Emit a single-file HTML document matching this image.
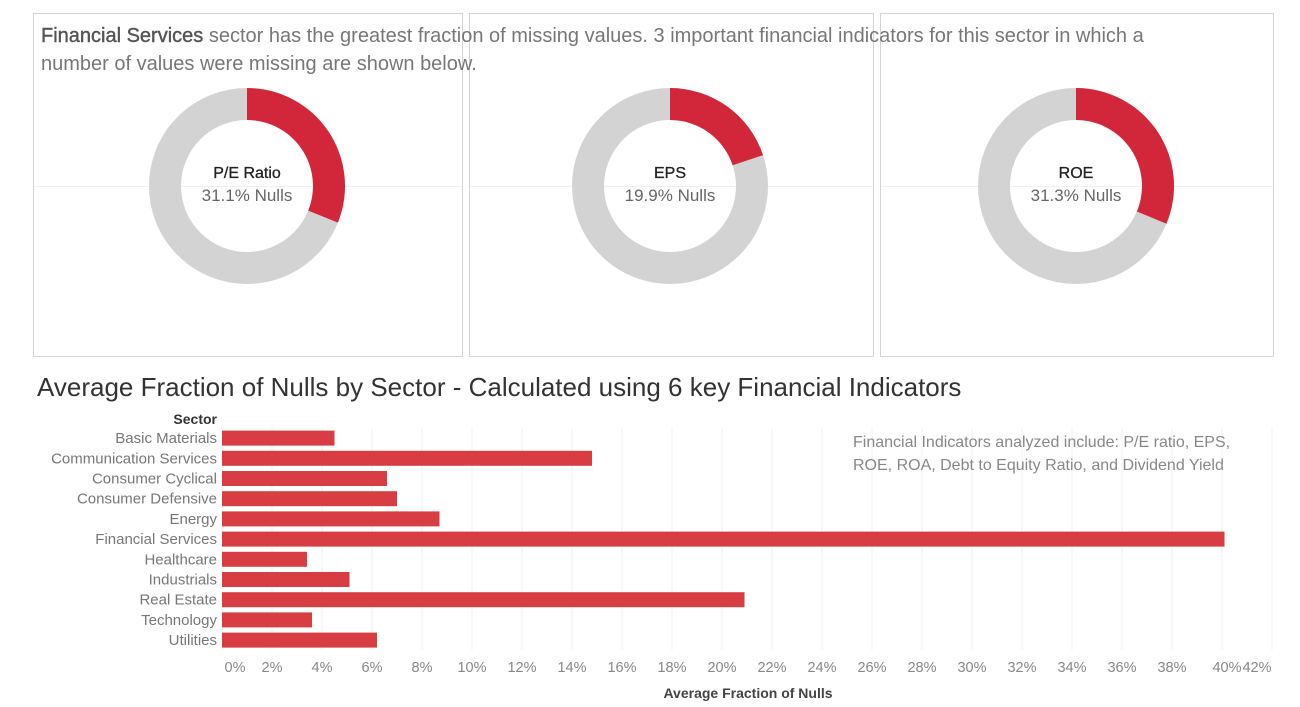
<!DOCTYPE html>
<html><head><meta charset="utf-8"><style>
body{margin:0;width:1300px;height:707px;background:#fff;font-family:"Liberation Sans",sans-serif;position:relative;overflow:hidden}
.panel{position:absolute;top:13px;height:344px;border:1px solid #d4d4d4;box-sizing:border-box}
.hline{position:absolute;top:186px;height:1px;background:#f0f0f0}
text{font-family:"Liberation Sans",sans-serif}
</style></head><body>
<div class="panel" style="left:33px;width:430px"></div>
<div class="panel" style="left:469px;width:405px"></div>
<div class="panel" style="left:880px;width:394px"></div>
<div class="hline" style="left:34px;width:428px"></div>
<div class="hline" style="left:470px;width:403px"></div>
<div class="hline" style="left:881px;width:392px"></div>
<div style="position:absolute;left:41px;top:22px;width:1170px;font-size:20px;line-height:28px;color:#777"><b style="color:#555;font-weight:normal;-webkit-text-stroke:0.4px #555">Financial Services</b> sector has the greatest fraction of missing values. 3 important financial indicators for this sector in which a number of values were missing are shown below.</div>
<svg id="donuts" width="1300" height="360" style="position:absolute;left:0;top:0"></svg>
<div style="position:absolute;left:37px;top:372px;font-size:26px;color:#333">Average Fraction of Nulls by Sector - Calculated using 6 key Financial Indicators</div>
<svg id="bars" width="1300" height="707" style="position:absolute;left:0;top:0;pointer-events:none"></svg>
<script>
const donutLabels=["P/E Ratio","EPS","ROE"];
const donutValues=[31.1,19.9,31.3];
const categories=["Basic Materials","Communication Services","Consumer Cyclical","Consumer Defensive","Energy","Financial Services","Healthcare","Industrials","Real Estate","Technology","Utilities"];
const values=[4.5,14.8,6.6,7.0,8.7,40.1,3.4,5.1,20.9,3.6,6.2];
const ticks=[0,2,4,6,8,10,12,14,16,18,20,22,24,26,28,30,32,34,36,38,40,42];
const NS="http://www.w3.org/2000/svg";
function mk(p,t,a){const e=document.createElementNS(NS,t);for(const k in a)e.setAttribute(k,a[k]);p.appendChild(e);return e;}
const ds=document.getElementById('donuts');
const cxs=[247,670,1076],cy=186,R=98,r=66;
function pt(cx,rad,f){const a=f*2*Math.PI;return [cx+rad*Math.sin(a),cy-rad*Math.cos(a)];}
donutValues.forEach((v,i)=>{
 const cx=cxs[i];const g=mk(ds,'g',{});
 
 
 const rm=(R+r)/2;
 mk(g,'circle',{cx:cx,cy:cy,r:rm,fill:'none',stroke:'#d3d3d3','stroke-width':R-r});
 const f=v/100;const [x1,y1]=pt(cx,R,0),[x2,y2]=pt(cx,R,f),[x3,y3]=pt(cx,r,f),[x4,y4]=pt(cx,r,0);
 const la=f>0.5?1:0;
 const p=mk(g,'path',{d:`M${x1},${y1}A${R},${R} 0 ${la} 1 ${x2},${y2}L${x3},${y3}A${r},${r} 0 ${la} 0 ${x4},${y4}Z`,fill:'#d2263b'});
 
 
 const t1=mk(g,'text',{x:cx,y:cy-8,'text-anchor':'middle','font-size':16,fill:'#222','stroke':'#222','stroke-width':0.3});t1.textContent=donutLabels[i];
 
 
 const t2=mk(g,'text',{x:cx,y:cy+15,'text-anchor':'middle','font-size':17,fill:'#666'});t2.textContent=v.toFixed(1)+'% Nulls';
 
 
});
const bs=document.getElementById('bars');
const x0=222,pxPer=25,top0=428,rowH=20.2,barH=15;
const X=v=>x0+v*pxPer;
ticks.forEach((t,i)=>{
 const l=mk(bs,'line',{x1:X(t),x2:X(t),y1:top0,y2:650,stroke:'#f2f2f2','stroke-width':1});
 
 
 let lx=X(t); if(i===0) lx+=13; if(i===ticks.length-1) lx-=15; if(i===ticks.length-2) lx+=5;
 const tx=mk(bs,'text',{x:lx,y:672,'text-anchor':'middle','font-size':14.5,fill:'#888'});tx.textContent=t+'%';
 
 
});
categories.forEach((c,i)=>{
 const yc=top0+rowH*(i+0.5);
 const b=mk(bs,'rect',{x:X(0),y:yc-barH/2,width:X(values[i])-X(0),height:barH,fill:'#d73d42'});
 
 
 const t=mk(bs,'text',{x:217,y:yc+5,'text-anchor':'end','font-size':15,fill:'#777'});t.textContent=c;
 
 
});
const yt=mk(bs,'text',{x:217,y:424,'text-anchor':'end','font-size':14,fill:'#333','font-weight':'bold'});yt.textContent='Sector';


const xt=mk(bs,'text',{x:748,y:698,'text-anchor':'middle','font-size':14,fill:'#444','font-weight':'bold'});xt.textContent='Average Fraction of Nulls';


['Financial Indicators analyzed include: P/E ratio, EPS,','ROE, ROA, Debt to Equity Ratio, and Dividend Yield'].forEach((s,i)=>{
 const a=mk(bs,'text',{x:853,y:447+i*23,'font-size':16,fill:'#888'});a.textContent=s;
 
 
});
</script>
</body></html>
